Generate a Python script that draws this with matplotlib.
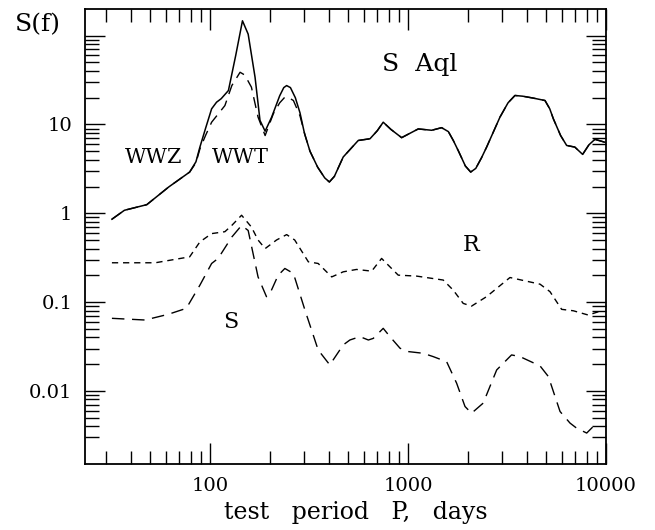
import numpy as np
import matplotlib
matplotlib.use("Agg")
import matplotlib.pyplot as plt
from matplotlib.ticker import FixedLocator, NullFormatter

# ---- data (period P in days, S(f)) ----
p_wwz = [32, 37, 48, 62, 79, 85, 89, 95, 102, 108, 114, 124, 135, 146, 156, 169,
         179, 190, 205, 225, 236, 244, 255, 270, 285, 300, 320, 350, 380, 401,
         425, 471, 561, 643, 700, 750, 820, 929, 1127, 1318, 1479, 1600, 1694,
         1800, 1950, 2074, 2200, 2350, 2496, 2915, 3200, 3470, 3800, 4295,
         4920, 5200, 5420, 5900, 6330, 6960, 7620, 8200, 8790, 9880]
s_wwz = [0.857, 1.08, 1.25, 1.98, 2.91, 3.8, 5.56, 9.0, 15.0, 17.8, 19.5, 24.1,
         60.0, 147.0, 104.0, 34.0, 11.1, 8.4, 12.1, 21.0, 26.0, 27.4, 26.0,
         20.0, 13.5, 8.0, 5.0, 3.3, 2.5, 2.25, 2.6, 4.3, 6.6, 6.9, 8.5, 10.6,
         8.8, 7.1, 8.9, 8.6, 9.2, 8.3, 6.6, 5.0, 3.4, 2.91, 3.2, 4.2, 5.56, 12.1,
         17.5, 21.2, 20.8, 19.8, 18.6, 15.0, 11.6, 7.5, 5.8, 5.56, 4.6, 5.9, 6.8,
         6.3]

p_wwt = [32, 37, 48, 62, 79, 85, 89, 95, 102, 119, 129, 142, 150, 162, 175,
         190, 209, 225, 239, 250, 264, 285, 302, 320, 350, 380, 401, 425, 471,
         561, 643, 700, 750, 820, 929, 1127, 1318, 1479, 1600, 1694, 1800, 1950,
         2074, 2200, 2350, 2496, 2915, 3200, 3470, 3800, 4295, 4920, 5200, 5420,
         5900, 6330, 6960, 7620, 8200, 8790, 9880]
s_wwt = [0.857, 1.08, 1.25, 1.98, 2.91, 3.7, 5.3, 7.5, 10.6, 16.3, 27.4, 38.7,
         36.0, 26.3, 12.1, 7.5, 13.2, 17.5, 20.3, 20.0, 18.6, 12.5, 7.6, 5.0,
         3.3, 2.5, 2.25, 2.6, 4.3, 6.6, 6.9, 8.5, 10.6, 8.8, 7.1, 8.9, 8.6, 9.2,
         8.3, 6.6, 5.0, 3.4, 2.91, 3.2, 4.2, 5.56, 12.1, 17.5, 21.2, 20.8, 19.8,
         18.6, 15.0, 11.6, 7.5, 5.8, 5.56, 4.6, 5.9, 6.8, 6.3]

p_r = [32, 53, 79, 89, 102, 119, 129, 144.5, 162, 175, 190, 217, 244, 268, 314,
       352, 412, 471, 550, 656, 736, 780, 893, 1107, 1507, 1694, 1901, 2094,
       2493, 3274, 4645, 5213, 5970, 6840, 8140, 9150]
s_r = [0.277, 0.277, 0.323, 0.476, 0.59, 0.62, 0.73, 0.95, 0.70, 0.50, 0.40,
       0.50, 0.575, 0.50, 0.284, 0.272, 0.192, 0.219, 0.233, 0.223, 0.31, 0.272,
       0.201, 0.196, 0.177, 0.136, 0.0966, 0.090, 0.115, 0.189, 0.159, 0.131,
       0.0828, 0.0798, 0.0714, 0.0778]

p_s = [32, 47, 61.6, 76, 89, 102, 110, 129, 144.5, 156, 175, 193, 201, 221, 239,
       264, 302, 352, 403, 471, 509, 572, 631, 668, 750, 811, 912, 1003, 1194,
       1342, 1568, 1761, 1941, 2094, 2398, 2805, 3335, 3680, 4645, 5117, 5860,
       6580, 7110, 7990, 8630, 9150]
s_s = [0.0656, 0.0628, 0.0728, 0.085, 0.155, 0.272, 0.31, 0.54, 0.73, 0.64,
       0.192, 0.115, 0.125, 0.20, 0.239, 0.21, 0.081, 0.0289, 0.0196, 0.0329,
       0.0374, 0.0408, 0.0374, 0.039, 0.0506, 0.0408, 0.0302, 0.0277, 0.0265,
       0.0243, 0.0213, 0.0122, 0.00667, 0.0056, 0.00728, 0.0172, 0.0254, 0.0243,
       0.0191, 0.0145, 0.00586, 0.00434, 0.0038, 0.00335, 0.00398, 0.00417]

x_major = [100, 1000, 10000]
x_labels = ["100", "1000", "10000"]
y_major = [0.01, 0.1, 1, 10, 100]
y_labels = ["0.01", "0.1", "1", "10", ""]

# ---- figure ----
plt.rcParams['font.family'] = ['DejaVu Serif']
fig = plt.figure(figsize=(6.55, 5.30), dpi=100)
ax = fig.add_axes([85/655, 1-464.3/530, (606-85)/655, (464.3-9.3)/530])

ax.plot(p_wwz, s_wwz, color='black', lw=1.1, solid_joinstyle='round')
ax.plot(p_wwt, s_wwt, color='black', lw=1.0, dashes=(8, 5))
ax.plot(p_r, s_r, color='black', lw=1.0, dashes=(4.5, 3.5))
ax.plot(p_s, s_s, color='black', lw=1.0, dashes=(9, 5.5))

ax.set_xscale('log')
ax.set_yscale('log')
ax.set_xlim(23.4, 10000)
ax.set_ylim(0.00149, 198)

ax.xaxis.set_major_locator(FixedLocator(x_major))
ax.set_xticklabels(x_labels)
xminor = [m * 10**d for d in (1, 2, 3) for m in range(2, 10)]
ax.xaxis.set_minor_locator(FixedLocator(xminor))
ax.xaxis.set_minor_formatter(NullFormatter())

ax.yaxis.set_major_locator(FixedLocator(y_major))
ax.set_yticklabels(y_labels)
yminor = [m * 10**d for d in (-3, -2, -1, 0, 1, 2) for m in range(2, 10)]
yminor = [v for v in yminor if v > 0.0025]
ax.yaxis.set_minor_locator(FixedLocator(yminor))
ax.yaxis.set_minor_formatter(NullFormatter())

ax.tick_params(which='both', direction='in', top=True, right=True, width=1.0,
               labelsize=14, color='black')
ax.tick_params(axis='x', which='major', length=15, pad=9)
ax.tick_params(axis='x', which='minor', length=9.5)
ax.tick_params(axis='y', which='major', length=14.5, pad=9)
ax.tick_params(axis='y', which='minor', length=10)
for sp in ax.spines.values():
    sp.set_linewidth(1.3)

ax.text(52, 4.26, "WWZ", fontsize=15, ha='center', va='center')
ax.text(141.7, 4.26, "WWT", fontsize=15, ha='center', va='center')
ax.text(1150, 47.2, "S  Aql", fontsize=18, ha='center', va='center')
ax.text(2080, 0.436, "R", fontsize=16, ha='center', va='center')
ax.text(127.6, 0.0596, "S", fontsize=16, ha='center', va='center')

fig.text(38/655, 1-25/530, "S(f)", fontsize=18, ha='center', va='center')
fig.text(356/655, 1-512/530, "test   period   P,   days", fontsize=17,
         ha='center', va='center')

fig.savefig("out.png", dpi=100)
